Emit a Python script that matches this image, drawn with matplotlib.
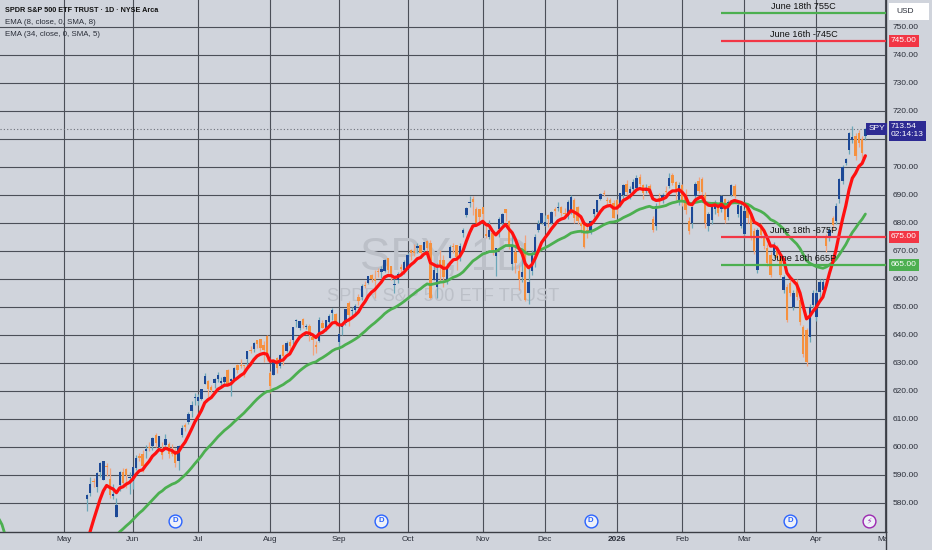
import numpy as np
import pandas as pd
import matplotlib
matplotlib.use("Agg")
import matplotlib.pyplot as plt
import matplotlib.transforms as mtransforms
from matplotlib import font_manager
from matplotlib.patches import Rectangle
from matplotlib.lines import Line2D

# ---- sessions (NYSE holidays removed) ----
holidays = ["2025-02-17", "2025-04-18", "2025-05-26", "2025-06-19", "2025-07-04", "2025-09-01",
            "2025-11-27", "2025-12-25", "2026-01-01", "2026-01-19", "2026-02-16", "2026-04-03"]
sessions = pd.bdate_range("2025-02-03", "2026-05-08").drop(pd.DatetimeIndex(holidays))

# closes before the visible candles (Feb 3 - May 9 2025), only used to warm up the EMAs
warm_close = [597.8, 601.8, 604.2, 606.3, 600.8, 604.9, 605.3, 603.4, 609.7, 609.7, 611.5, 612.9, 610.4,
              600.0, 597.2, 594.2, 594.5, 585.1, 594.2,
              583.8, 576.9, 583.1, 572.7, 575.9, 560.6, 555.9, 558.9, 551.4, 562.8, 567.2, 561.0, 567.1,
              565.5, 564.0, 574.1, 575.5, 568.6, 567.1, 555.7, 559.4,
              561.0, 564.5, 536.7, 505.3, 504.4, 496.5, 548.6, 524.6, 533.9, 539.1, 537.6, 525.7, 526.4,
              513.9, 527.3, 535.4, 546.7, 550.6, 550.9, 554.3, 554.5,
              558.5, 566.8, 563.5, 558.8, 561.2, 565.1, 564.3]

# daily candles May 12 2025 - Apr 23 2026
opens = [
    581.5, 583.4, 587.8, 585.6, 591.2, 588.1, 593.1, 588.4, 582.3, 575.0, 586.3, 591.2, 592.0, 588.8,
    587.8, 592.3, 596.9, 597.6, 598.7, 600.0, 600.2, 604.2, 600.0, 598.5, 600.8, 600.9, 598.0, 598.4,
    595.0, 604.3, 607.9, 608.9, 612.9, 617.4,
    616.4, 617.2, 622.4, 623.4, 621.4, 622.8, 624.2, 622.7, 623.2, 627.5, 623.7, 624.4, 629.3, 629.0,
    629.1, 631.5, 634.6, 635.1, 638.0, 638.4, 636.5, 639.5,
    626.3, 625.7, 631.6, 629.0, 636.3, 634.1, 637.5, 638.3, 644.8, 642.4, 645.6, 642.9, 643.1, 639.4,
    636.3, 637.8, 644.4, 642.2, 644.6, 647.7, 647.5,
    637.5, 642.7, 644.4, 651.5, 648.6, 648.8, 653.6, 653.6, 657.6, 658.5, 661.5, 660.0, 662.6, 662.3,
    662.9, 667.3, 664.5, 657.9, 659.5, 664.4, 663.2,
    663.2, 670.3, 670.0, 671.0, 672.0, 670.3, 673.5, 672.9, 659.6, 657.2, 666.8, 666.8, 659.5, 667.3,
    671.4, 672.0, 668.1, 676.5, 682.9, 687.0, 688.7, 685.0, 685.0,
    685.7, 676.1, 674.8, 676.5, 668.0, 677.9, 679.9, 684.8, 680.5, 665.4, 669.5, 662.9, 660.6, 672.9,
    655.1, 662.7, 668.5, 677.6, 679.9,
    679.0, 682.7, 680.0, 685.0, 685.2, 685.7, 683.4, 682.6, 684.1, 688.2, 685.7, 680.1, 679.5, 677.6,
    676.6, 683.0, 684.0, 688.4, 690.6, 688.3, 688.1, 687.2,
    688.0, 686.0, 690.0, 694.0, 690.5, 692.0, 692.5, 696.5, 693.5, 691.5, 693.0, 681.5, 679.0, 689.0,
    688.5, 691.5, 693.0, 697.0, 694.5, 688.0,
    693.5, 690.0, 680.5, 680.0, 689.5, 695.0, 695.5, 690.0, 679.0, 681.0, 685.0, 686.5, 685.0, 688.5,
    682.0, 690.0, 693.0, 683.0, 679.0,
    676.0, 685.4, 682.4, 677.0, 663.2, 678.8, 674.6, 671.0, 668.6, 668.6, 671.0, 668.0, 656.0, 657.2,
    658.4, 650.0, 659.0, 652.4, 642.8, 641.6, 639.2, 650.6,
    646.4, 655.4, 656.0, 674.6, 674.6, 681.8, 680.6, 688.4, 695.0, 701.5, 706.0, 709.5, 711.0, 712.0,
    709.8, 711.0]
highs = [
    583.0, 589.1, 588.9, 590.9, 594.5, 594.9, 594.1, 592.6, 586.6, 581.8, 591.3, 592.3, 592.5, 591.0,
    592.8, 597.1, 597.8, 599.0, 600.5, 601.8, 603.4, 605.1, 604.0, 601.9, 604.5, 601.7, 601.2, 599.5,
    600.5, 607.9, 608.6, 612.3, 616.4, 619.2,
    618.8, 620.5, 626.3, 624.0, 622.1, 624.7, 626.9, 624.9, 625.2, 627.9, 624.7, 628.4, 629.5, 631.5,
    629.2, 634.2, 636.0, 637.6, 638.1, 638.6, 637.7, 639.8,
    627.0, 631.2, 632.0, 633.2, 636.9, 637.7, 638.5, 642.9, 645.8, 645.0, 646.2, 644.0, 644.0, 639.7,
    637.9, 646.5, 645.2, 645.3, 647.4, 649.5, 647.8,
    640.5, 644.2, 649.2, 652.2, 650.0, 650.9, 654.6, 658.0, 659.1, 661.0, 661.7, 663.0, 664.0, 664.5,
    667.0, 667.3, 664.6, 659.9, 662.6, 665.3, 666.7,
    669.4, 670.5, 672.5, 672.7, 672.2, 673.2, 673.9, 673.9, 665.1, 665.8, 670.2, 668.7, 665.8, 672.2,
    672.9, 672.1, 672.7, 678.0, 685.5, 689.7, 689.7, 685.6, 685.1,
    685.8, 679.9, 680.9, 677.4, 671.1, 682.2, 683.6, 684.9, 680.9, 675.6, 673.7, 665.1, 667.3, 675.6,
    664.6, 670.2, 676.2, 681.0, 683.4,
    682.9, 683.0, 684.4, 685.8, 687.5, 686.0, 685.2, 688.2, 689.8, 688.9, 685.9, 681.2, 680.4, 680.0,
    681.0, 685.0, 688.0, 690.6, 691.7, 689.1, 689.0, 688.0,
    688.6, 690.8, 694.0, 695.3, 693.0, 695.5, 697.0, 697.5, 694.0, 694.0, 693.8, 682.5, 687.0, 690.8,
    690.5, 693.0, 697.7, 697.8, 695.0, 694.5,
    694.0, 692.0, 682.0, 686.0, 694.5, 696.5, 696.5, 691.0, 684.0, 686.5, 688.0, 687.0, 690.0, 689.0,
    688.0, 694.0, 694.0, 687.0, 687.0,
    685.0, 686.5, 683.5, 678.0, 678.0, 680.0, 675.5, 672.5, 669.5, 673.0, 672.0, 669.0, 661.5, 658.0,
    659.5, 656.0, 660.0, 653.5, 643.5, 642.5, 651.0, 656.0,
    656.0, 660.0, 660.0, 676.0, 678.5, 682.5, 687.0, 696.0, 700.5, 703.0, 712.5, 714.5, 712.0, 713.0,
    711.0, 714.0]
lows = [
    577.0, 582.5, 585.5, 583.8, 589.3, 588.0, 589.7, 581.8, 581.3, 575.0, 584.3, 586.9, 585.2, 583.0,
    585.1, 591.9, 595.0, 591.1, 596.2, 598.5, 598.9, 599.8, 599.5, 595.5, 600.2, 596.0, 596.7, 592.9,
    591.9, 603.4, 605.5, 608.0, 610.8, 615.0,
    615.0, 616.6, 622.4, 617.9, 619.5, 620.9, 623.0, 621.5, 621.8, 622.0, 618.1, 624.2, 626.5, 628.3,
    624.9, 628.2, 633.5, 634.0, 635.4, 634.3, 630.4, 630.8,
    619.3, 625.5, 626.3, 628.1, 629.3, 633.8, 634.3, 636.8, 642.8, 641.6, 642.4, 642.2, 637.9, 632.9,
    633.7, 637.3, 642.4, 641.4, 644.4, 645.3, 643.1,
    634.9, 640.1, 643.5, 643.3, 646.3, 647.2, 650.6, 652.4, 656.9, 658.1, 658.9, 653.2, 660.5, 660.4,
    662.6, 662.1, 659.6, 654.8, 658.4, 661.9, 661.6,
    663.1, 666.7, 668.2, 669.3, 667.5, 669.4, 669.1, 652.8, 659.5, 653.2, 658.9, 657.1, 658.1, 667.3,
    669.2, 663.2, 666.4, 675.1, 682.1, 685.5, 682.7, 679.3, 679.2,
    679.9, 674.6, 674.2, 668.6, 661.2, 675.0, 679.1, 680.7, 670.5, 663.3, 662.2, 655.9, 658.8, 652.0,
    650.9, 661.4, 664.3, 676.9, 679.5,
    678.8, 678.6, 679.7, 682.3, 684.1, 682.3, 682.4, 681.3, 683.0, 679.9, 679.7, 676.3, 671.0, 674.6,
    675.9, 682.0, 683.5, 688.0, 689.6, 686.4, 686.8, 681.7,
    683.0, 685.5, 688.5, 690.0, 688.5, 690.5, 691.5, 693.0, 688.5, 690.5, 689.5, 676.8, 677.5, 686.5,
    687.0, 690.0, 692.5, 693.5, 688.0, 686.5,
    686.0, 683.0, 676.0, 678.0, 688.5, 690.5, 690.0, 678.0, 677.0, 679.5, 683.0, 682.5, 684.0, 680.0,
    681.0, 689.5, 689.0, 682.0, 678.0,
    674.5, 680.0, 674.0, 669.0, 662.0, 674.5, 670.5, 664.5, 660.5, 667.5, 666.5, 660.5, 655.0, 644.5,
    654.0, 649.0, 652.5, 643.5, 632.0, 629.0, 637.5, 649.5,
    645.0, 652.0, 654.0, 669.5, 673.5, 677.5, 679.5, 687.0, 694.0, 700.5, 704.5, 708.5, 702.5, 707.0,
    703.0, 709.5]
closes = [
    582.9, 586.8, 587.6, 590.5, 594.2, 594.9, 592.9, 582.9, 583.1, 579.1, 591.2, 587.2, 590.1, 589.4,
    592.7, 596.1, 595.9, 593.1, 599.1, 599.7, 603.1, 601.4, 603.8, 597.0, 602.7, 597.5, 597.4, 594.3,
    600.2, 606.8, 607.1, 611.9, 614.9, 617.9,
    617.7, 620.5, 625.3, 620.7, 620.3, 624.1, 625.8, 623.6, 624.8, 622.1, 624.2, 628.0, 627.6, 628.8,
    628.9, 634.2, 634.4, 637.1, 636.9, 635.3, 634.5, 632.1,
    621.7, 631.2, 628.0, 632.8, 632.3, 637.2, 635.9, 642.7, 644.9, 645.0, 643.4, 643.3, 639.8, 638.1,
    635.6, 645.3, 642.5, 645.2, 646.8, 648.9, 645.1,
    640.3, 643.7, 649.1, 647.2, 648.8, 650.3, 652.2, 657.6, 657.4, 660.9, 660.0, 659.2, 662.3, 663.7,
    666.8, 663.2, 661.1, 658.1, 661.8, 663.7, 666.2,
    668.5, 669.2, 669.2, 671.6, 669.1, 673.1, 671.2, 653.0, 663.0, 662.2, 665.2, 660.6, 664.4, 671.3,
    671.3, 667.8, 671.8, 677.3, 685.2, 687.1, 687.4, 679.8, 682.1,
    683.3, 675.2, 677.6, 670.3, 671.0, 681.4, 683.0, 683.4, 672.0, 671.9, 665.7, 660.1, 662.6, 652.5,
    659.0, 668.7, 675.0, 679.7, 683.4,
    680.3, 681.5, 683.9, 684.4, 685.7, 683.6, 683.0, 687.6, 689.2, 681.8, 680.7, 678.9, 671.4, 676.5,
    680.6, 684.8, 688.0, 690.4, 690.3, 687.9, 687.0, 681.9,
    685.3, 690.5, 693.6, 691.0, 692.2, 694.5, 696.0, 694.0, 690.8, 692.5, 690.6, 677.6, 686.0, 688.5,
    690.0, 691.0, 696.0, 694.2, 691.5, 693.5,
    687.5, 684.5, 677.2, 685.5, 694.0, 691.5, 691.0, 680.0, 683.0, 685.5, 687.5, 683.6, 689.5, 681.0,
    687.5, 693.5, 689.6, 686.5, 686.0,
    684.2, 681.8, 675.2, 669.8, 677.6, 675.8, 671.6, 665.6, 661.4, 672.2, 667.4, 661.4, 660.8, 645.2,
    654.8, 654.8, 653.6, 644.6, 633.2, 630.2, 650.0, 654.8,
    654.8, 659.0, 659.0, 671.6, 677.6, 679.4, 686.0, 695.6, 700.0, 702.7, 712.0, 710.5, 704.0, 708.6,
    705.0, 713.54]

month_starts = ["2025-05-01", "2025-06-02", "2025-07-01", "2025-08-01", "2025-09-02", "2025-10-01",
                "2025-11-03", "2025-12-01", "2026-01-02", "2026-02-02", "2026-03-02", "2026-04-01",
                "2026-05-01"]
month_labels = ["May", "Jun", "Jul", "Aug", "Sep", "Oct", "Nov", "Dec", "2026", "Feb", "Mar", "Apr", "May"]
price_ticks = list(range(580, 751, 10))

level_prices = [755, 745, 675, 665]
level_texts = ["June 18th 755C", "June 16th -745C", "June 18th -675P", "June 18th 665P"]
level_colors = ["#4CAF50", "#F23645", "#F23645", "#4CAF50"]
level_start = "2026-02-19"

dividend_days = ["2025-06-20", "2025-09-19", "2025-12-19", "2026-03-20"]
event_day = "2026-04-24"
last_price = 713.54

# ---- styling ----
BG = "#D0D4DC"
GRID = "#4B4F58"
UP, DN = "#1C4896", "#F5913F"
UP_WICK, DN_WICK = "#6AA6B8", "#F3A27C"
TXT = "#2A2E39"
TAG = "#2D2A93"

names = {f.name for f in font_manager.fontManager.ttflist}
if "Liberation Sans Narrow" in names:
    FONT, k = "Liberation Sans Narrow", 1.0
else:
    FONT, k = "Liberation Sans", 0.82
plt.rcParams["font.family"] = [FONT, "DejaVu Sans"]

W, H = 932, 550
fig = plt.figure(figsize=(W / 100, H / 100), dpi=100)
fig.patch.set_facecolor(BG)
ax = fig.add_axes([0, 18 / H, 886 / W, 532 / H])
ax.set_facecolor(BG)


def xpos(d):
    return sessions.get_loc(pd.Timestamp(d)) - 40


n_warm = len(warm_close)
all_close = np.array(warm_close + closes)
all_pos = np.arange(len(all_close)) - 40
ema8 = pd.Series(all_close).ewm(span=8, adjust=False).mean()
ema34 = pd.Series(all_close).ewm(span=34, adjust=False).mean()

# candles
o, h, l, c = map(np.array, (opens, highs, lows, closes))
xc = all_pos[n_warm:]
up = c >= o
ax.vlines(xc, l, h, colors=np.where(up, UP_WICK, DN_WICK), lw=0.9, zorder=2)
ax.bar(xc, np.maximum(np.abs(c - o), 0.35), bottom=np.minimum(o, c), width=0.72,
       color=np.where(up, UP, DN), lw=0, zorder=3)

ax.plot(all_pos, ema34, color="#4CAF50", lw=2.0, zorder=4, solid_capstyle="round")
ax.plot(all_pos, ema8, color="#FF1010", lw=2.3, zorder=5, solid_capstyle="round")

x0, x1 = xpos("2025-04-02") + 0.4, xpos("2026-05-01") + 0.3
ax.set_xlim(x0, x1)
ax.set_ylim(569.6, 759.6)

# option levels
ls = xpos(level_start)
for p, t, col in zip(level_prices, level_texts, level_colors):
    ax.plot([ls, x1], [p, p], color=col, lw=1.6, zorder=6, solid_capstyle="butt")
    ax.annotate(t, xy=((ls + x1) / 2, p), xytext=(0, 2.5), textcoords="offset points",
                ha="center", va="baseline", fontsize=8 * k, color="#111111", zorder=7)

ax.axhline(last_price, color="#6B6F78", lw=0.8, ls=(0, (1, 2)), zorder=1)

# watermark
ax.text(0.501, 0.515, "SPY, 1D", transform=ax.transAxes, ha="center", va="center",
        fontsize=40 * k, color="#BCC0C8", zorder=1)
ax.text(0.5, 0.442, "SPDR S&P 500 ETF TRUST", transform=ax.transAxes, ha="center", va="center",
        fontsize=16 * k, color="#BCC0C8", zorder=1)

# grid / axes (710.00 sits under the last-price tag)
ax.set_xticks([xpos(d) for d in month_starts])
ax.set_xticklabels(month_labels)
ax.set_yticks(price_ticks)
ax.set_yticklabels(["" if v == 710 else f"{v:.2f}" for v in price_ticks])
ax.yaxis.tick_right()
ax.tick_params(axis="x", length=0, pad=3, labelsize=7.2 * k, labelcolor=TXT)
ax.tick_params(axis="y", length=0, pad=5, labelsize=7.3 * k, labelcolor=TXT)
for lab in ax.get_xticklabels():
    if lab.get_text() == "2026":
        lab.set_fontweight("bold")
ax.grid(True, color=GRID, lw=0.8)
ax.set_axisbelow(True)
for s in ("left", "top"):
    ax.spines[s].set_visible(False)
for s in ("right", "bottom"):
    ax.spines[s].set_color("#3A3D44")
    ax.spines[s].set_linewidth(1.0)

# event markers along the bottom
bt = mtransforms.blended_transform_factory(ax.transData, ax.transAxes)
for d in dividend_days:
    ax.scatter([xpos(d)], [0.021], s=85, transform=bt, fc="#EEF1F8", ec="#2962FF", lw=1.0,
               zorder=8, clip_on=False)
    ax.text(xpos(d), 0.021, "D", transform=bt, ha="center", va="center", fontsize=6.8 * k,
            fontweight="bold", color="#2962FF", zorder=9)
ev = sessions.get_loc(pd.Timestamp(event_day)) - 40
ax.scatter([ev], [0.021], s=85, transform=bt, fc="#EEF1F8", ec="#9C27B0", lw=1.0, zorder=8)
ax.text(ev, 0.021, "\u26a1", transform=bt, ha="center", va="center", fontsize=5.5,
        family="DejaVu Sans", color="#9C27B0", zorder=9)

# price tags on the right scale
yt = ax.get_yaxis_transform()
tag_prices = [745, 675, 665]
tag_colors = ["#F23645", "#F23645", "#4CAF50"]
for p, col in zip(tag_prices, tag_colors):
    ax.text(1 + 5 / 886, p, f"{p:.2f}", transform=yt, ha="left", va="center", fontsize=7.3 * k,
            color="white", zorder=10, clip_on=False,
            bbox=dict(boxstyle="square,pad=0.3", fc=col, ec="none"))

ax.text(1 - 1 / 886, last_price, "SPY", transform=yt, ha="right", va="center", fontsize=7.3 * k,
        color="white", zorder=10, clip_on=False,
        bbox=dict(boxstyle="square,pad=0.25", fc=TAG, ec="none"))
ax.text(1 + 5 / 886, last_price + 2.1, "713.54\n02:14:13", transform=yt, ha="left", va="top",
        fontsize=7.3 * k, color="white", zorder=10, clip_on=False, linespacing=1.25,
        bbox=dict(boxstyle="square,pad=0.3", fc=TAG, ec="none"))

# right panel extras
fig.add_artist(Rectangle((886 / W, 0), 46 / W, 17.5 / H, transform=fig.transFigure,
                         fc=BG, ec="none", zorder=20))
fig.add_artist(Line2D([886 / W, 886 / W], [0, 18 / H], transform=fig.transFigure,
                      color="#3A3D44", lw=1.0, zorder=21))
fig.add_artist(Rectangle((889 / W, 1 - 20 / H), 40 / W, 17 / H, transform=fig.transFigure,
                         fc="white", ec="none", zorder=20))
fig.text(896 / W, 1 - 11.5 / H, "USD", ha="left", va="center", fontsize=7.3 * k, color=TXT, zorder=21)

# header
fig.text(5 / W, 1 - 11 / H, "SPDR S&P 500 ETF TRUST \u00b7 1D \u00b7 NYSE Arca", ha="left",
         va="center", fontsize=6.4 * k, fontweight="bold", color="#111111")
fig.text(5 / W, 1 - 23 / H, "EMA (8, close, 0, SMA, 8)", ha="left", va="center",
         fontsize=6.9 * k, color=TXT)
fig.text(5 / W, 1 - 34 / H, "EMA (34, close, 0, SMA, 5)", ha="left", va="center",
         fontsize=6.9 * k, color=TXT)

fig.savefig("out.png", dpi=100, facecolor=BG)
